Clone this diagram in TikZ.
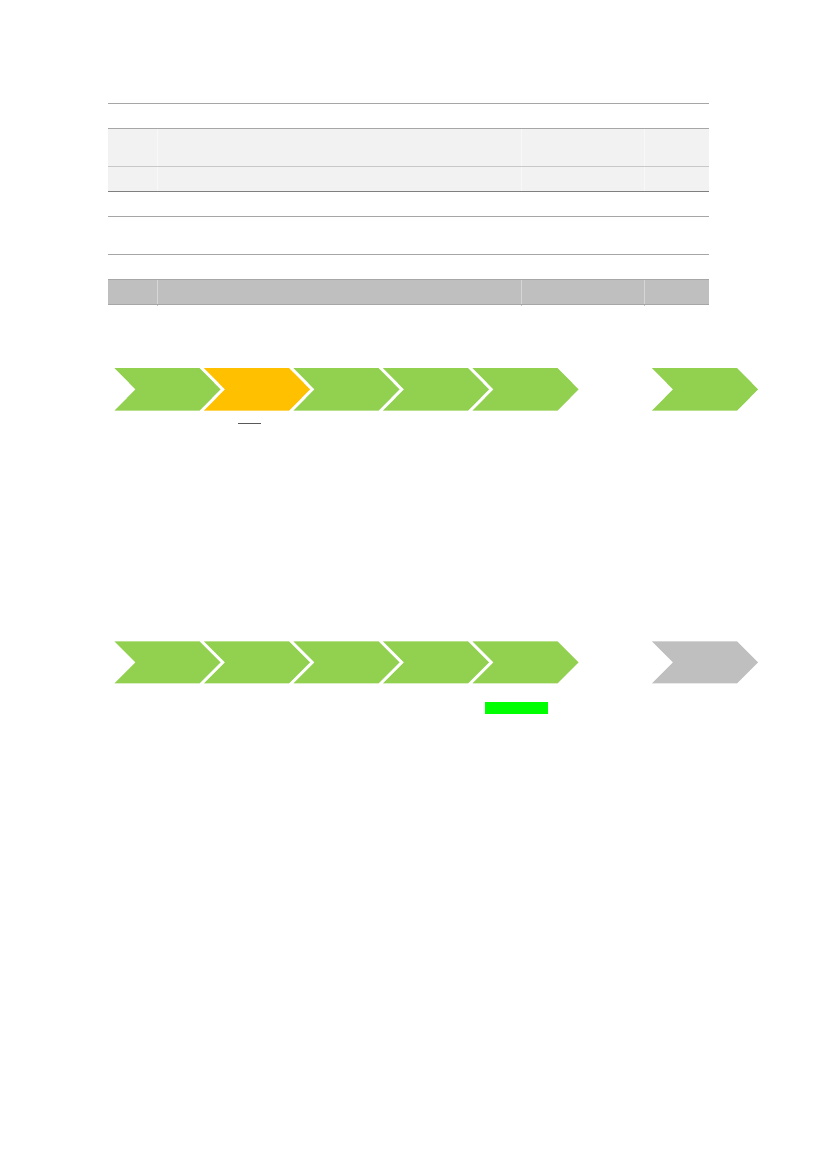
\documentclass[tikz,border=0pt]{standalone}
\definecolor{chgreen}{HTML}{92D050}
\definecolor{chorange}{HTML}{FFC000}
\definecolor{chgray}{HTML}{BFBFBF}
\definecolor{barlime}{HTML}{00FF00}
\definecolor{rowlight}{HTML}{F2F2F2}
\definecolor{rowgray}{HTML}{BFBFBF}
\definecolor{ruleline}{HTML}{A6A6A6}
\definecolor{rulelight}{HTML}{C8C8C8}
\definecolor{ruledark}{HTML}{7F7F7F}
\definecolor{ulgray}{HTML}{595959}
\definecolor{seplight}{HTML}{F8F8F8}
\definecolor{sepgray}{HTML}{D6D6D6}
\begin{document}
\begin{tikzpicture}[x=1bp,y=-1bp,
  rowrule/.style={draw=ruleline,line width=1bp},
  colsep/.style={draw=#1,line width=0.6bp},
  chevpath/.style={fill=#1}]
\path[use as bounding box] (0,0) rectangle (827,1169);
\fill[white] (0,0) rectangle (827,1169);
% table shading
\fill[rowlight] (108,128.3) rectangle (709,191.7);
\fill[rowgray] (108,279.3) rectangle (709,304);
\foreach \c in {157.3,521.7,644.3}{
  \draw[colsep=seplight] (\c,128.3) -- (\c,191.7);
  \draw[colsep=sepgray] (\c,279.3) -- (\c,304);
  \draw[draw=ruleline!70,line width=0.5bp] (\c,304) -- (\c,305.5);
}
% table rules
\foreach \y in {103.3,128.3,216.3,254.3,279.3,304}{
  \draw[rowrule] (108,\y) -- (709,\y);
}
\draw[rowrule,draw=rulelight] (108,166.7) -- (709,166.7);
\draw[rowrule,draw=ruledark] (108,191.7) -- (709,191.7);
% chevrons row 1
\foreach \x/\col in {114.5/chgreen,204/chorange,293.5/chgreen,383/chgreen,472.5/chgreen,652/chgreen}{
  \fill[chevpath=\col] (\x,368) -- ++(85,0) -- ++(21,21.35) -- ++(-21,21.35) -- ++(-85,0) -- ++(21,-21.35) -- cycle;
}
\draw[draw=ulgray,line width=0.9bp] (238.3,423.3) -- (261,423.3);
% chevrons row 2
\foreach \x/\col in {114.5/chgreen,204/chgreen,293.5/chgreen,383/chgreen,472.5/chgreen,652/chgray}{
  \fill[chevpath=\col] (\x,641.3) -- ++(85,0) -- ++(21,21) -- ++(-21,21) -- ++(-85,0) -- ++(21,-21) -- cycle;
}
\fill[barlime] (485,702) rectangle (548,713.7);
\end{tikzpicture}
\end{document}
